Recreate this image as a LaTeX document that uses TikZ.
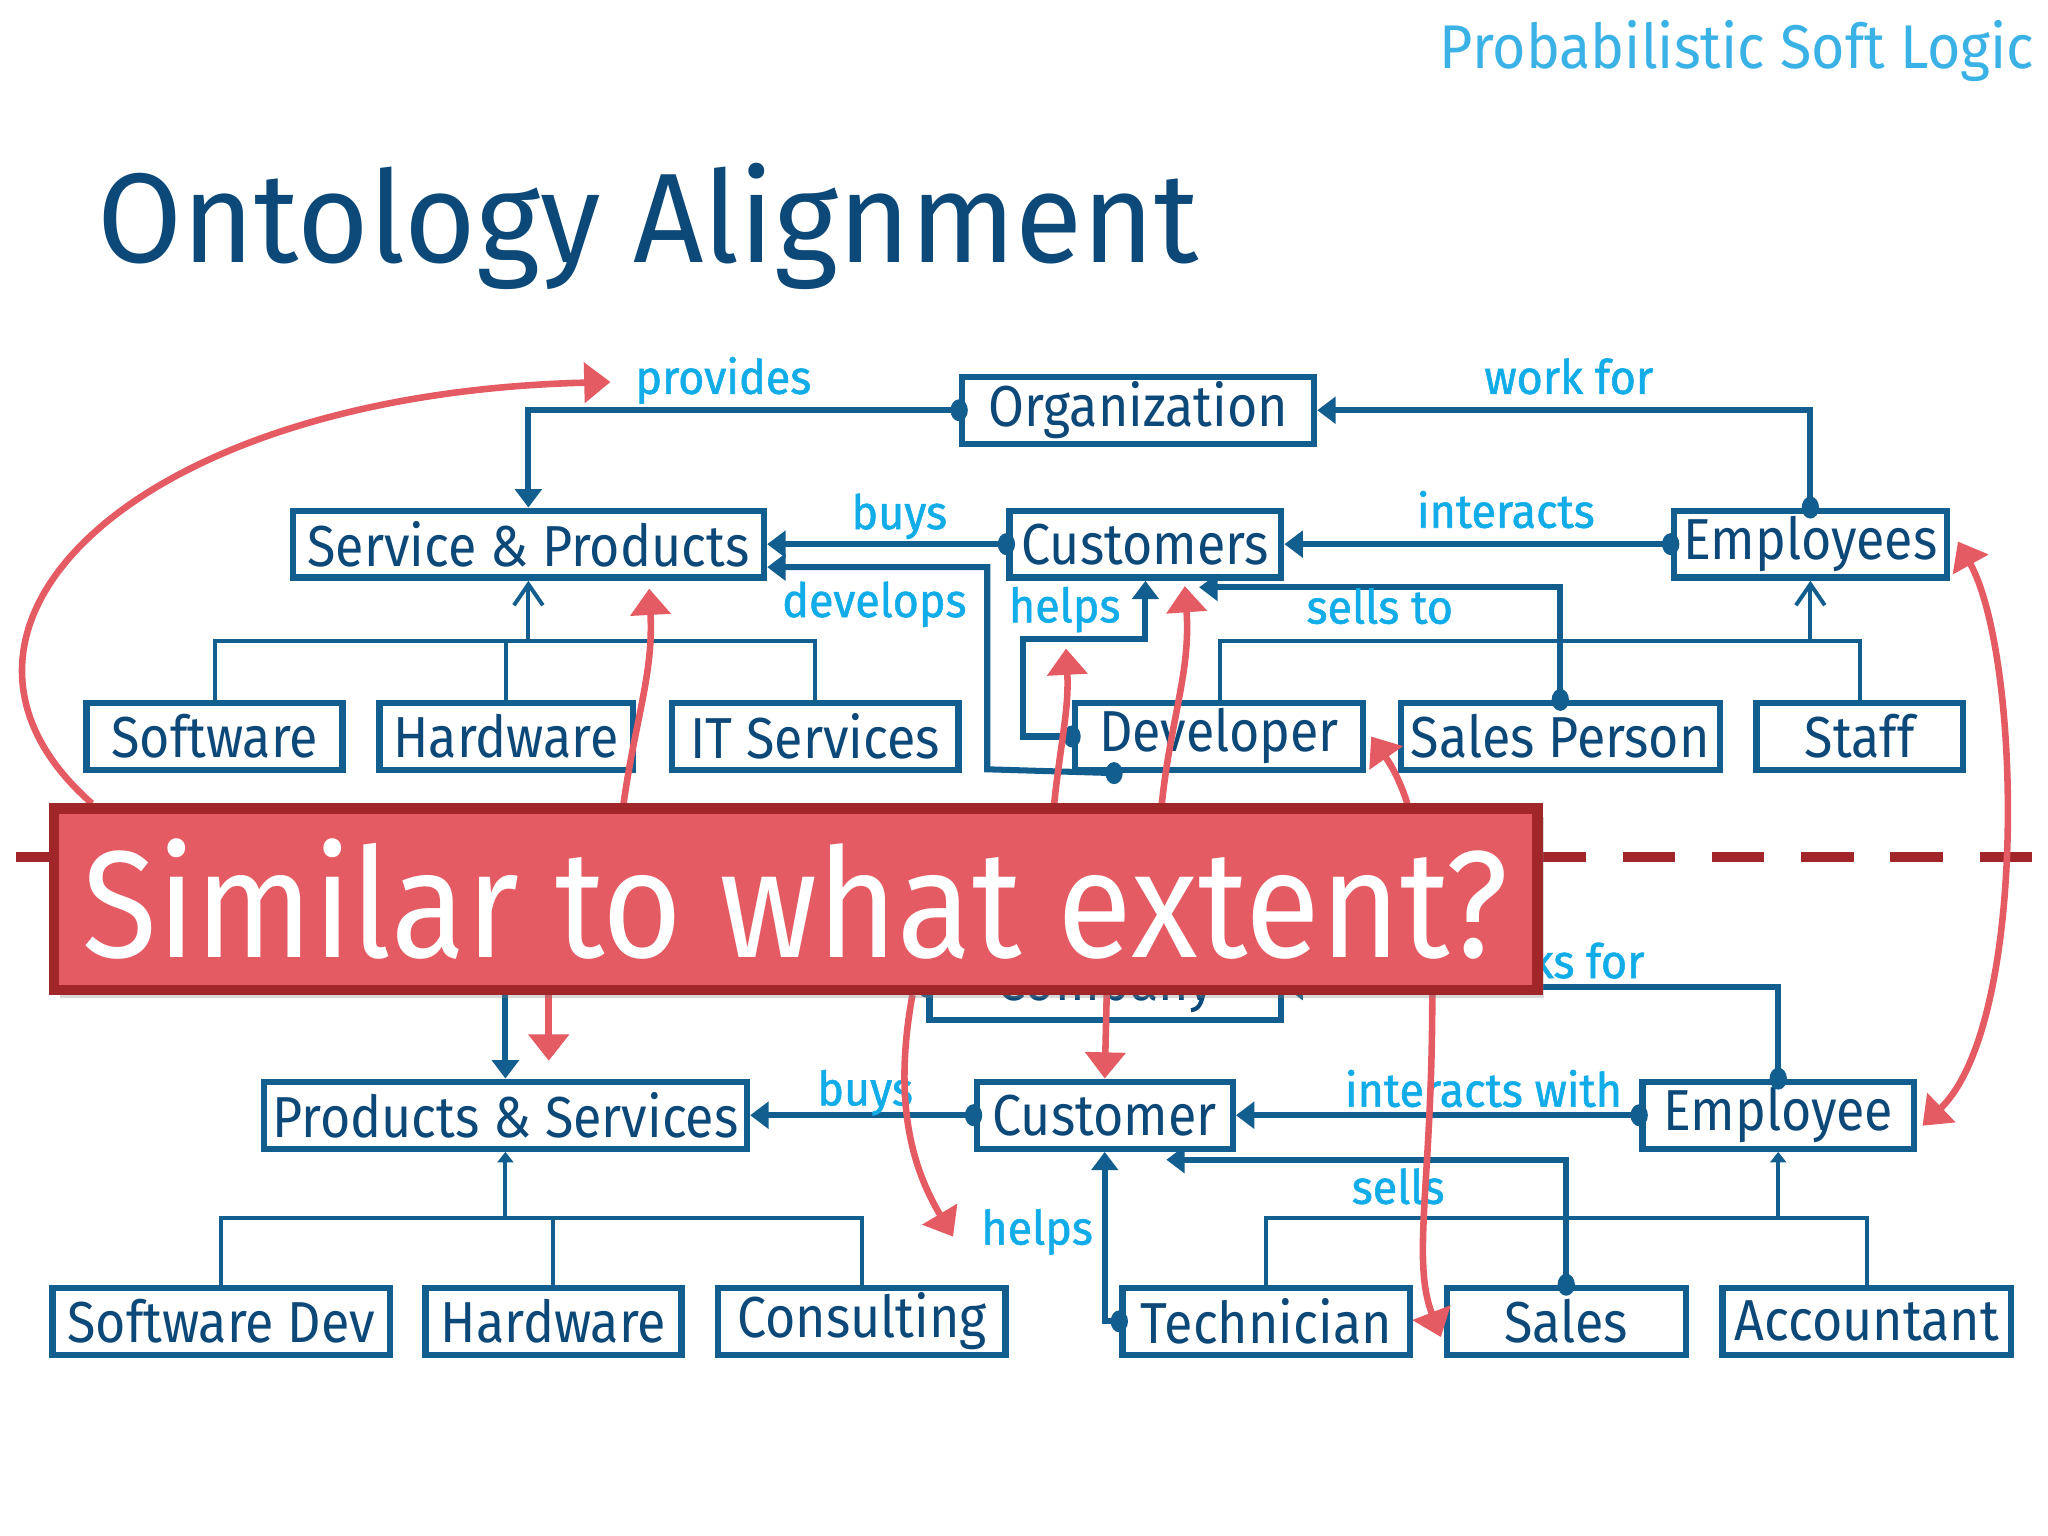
\documentclass[tikz,border=0pt]{standalone}
\usepackage{fontspec}
\newfontfamily\pslf{Fira Sans}[FakeStretch=0.9]
\newfontfamily\ttlf{Fira Sans}[FakeStretch=0.965]
\newfontfamily\hdrf{Fira Sans}[FakeStretch=0.93]
\newfontfamily\lblf{Fira Sans}[FakeStretch=0.95,FakeBold=1.2]
\usetikzlibrary{arrows.meta,shadows}
\definecolor{boxblue}{RGB}{17,94,143}
\definecolor{navy}{RGB}{12,72,120}
\definecolor{lblue}{RGB}{18,172,232}
\definecolor{pslred}{RGB}{229,91,99}
\definecolor{darkred}{RGB}{160,38,42}
\definecolor{titleblue}{RGB}{59,178,230}
\begin{document}
\begin{tikzpicture}[x=0.5pt,y=-0.5pt,
  obox/.style={draw=boxblue, line width=2.4pt, fill=white, inner sep=0pt,
    minimum height=25.5pt, text=navy, font=\pslf\fontsize{22}{24}\selectfont},
  rel/.style={draw=boxblue, line width=2.3pt, -{Triangle[length=7pt,width=10pt]}},
  dotm/.style={fill=boxblue},
  hier/.style={draw=boxblue, line width=1.5pt},
  hierarr/.style={draw=boxblue, line width=1.5pt, -{Straight Barb[length=8pt,width=11pt]}},
  hierarrsm/.style={draw=boxblue, line width=1.5pt, -{Triangle[length=4pt,width=6pt]}},
  lbl/.style={text=lblue, font=\lblf\fontsize{18}{20}\selectfont, inner sep=0pt},
  redarr/.style={draw=pslred, line width=2.5pt, -{Triangle[length=10pt,width=15pt]}},
  redarr2/.style={draw=pslred, line width=2.5pt, {Triangle[length=10pt,width=15pt]}-{Triangle[length=10pt,width=15pt]}}
]
\useasboundingbox[fill=white] (0,0) rectangle (1560,1170);

% titles
\node[anchor=base east, inner sep=0pt, text=titleblue, font=\hdrf\fontsize{23.5}{26}\selectfont] (psl) at (1550,52) {Probabilistic Soft Logic};
\node[anchor=base west, inner sep=0pt, text=navy, font=\ttlf\fontsize{48.5}{52}\selectfont] (title) at (74,200) {Ontology Alignment};

% ---------- upper ontology ----------
\node[obox, minimum width=134pt] (org) at (867,312.5) {Organization};
\node[obox, minimum width=179.5pt] (sp) at (402.5,414.5) {Service \& Products};
\node[obox, minimum width=103.5pt] (cus) at (872.5,414.5) {Customers};
\node[obox, minimum width=104pt] (emps) at (1379,414.5) {Employees};
\node[obox, minimum width=97.5pt] (sw) at (163.5,561) {Software};
\node[obox, minimum width=96.5pt] (hw) at (385.5,561) {Hardware};
\node[obox, minimum width=109pt] (it) at (621,561) {IT Services};
\node[obox, minimum width=109.5pt] (dev) at (928.5,561) {Developer};
\node[obox, minimum width=121.5pt] (slp) at (1188.5,561) {Sales Person};
\node[obox, minimum width=78.5pt] (stf) at (1416.5,561) {Staff};

\coordinate (hy1) at (0,488);
\draw[hier] (sw.north) |- (it.north |- hy1) -- (it.north);
\draw[hier] (hw.north) -- (hw.north |- hy1);
\draw[hierarr] (sp.south |- hy1) -- (sp.south);
\draw[hier] ([xshift=0.5pt]dev.north) |- (stf.north |- hy1) -- (stf.north);
\draw[hierarr] (emps.south |- hy1) -- (emps.south);

\draw[rel] (org.west) -| (sp.north);
\draw[rel] (emps.north) |- (org.east);
\draw[rel] (cus.west) -- (sp.east);
\draw[rel] (emps.west) -- (cus.east);
\draw[rel] ([xshift=16pt]dev.south west) -- (752,586) |- ([yshift=-8.75pt]sp.east);
\draw[rel] (slp.north) |- ([xshift=-32.5pt,yshift=-2.5pt]cus.south east);
\draw[rel] (dev.west) -- (779,561) -- (779,487) -| (cus.south);
\fill[dotm] (org.west) ellipse[x radius=3.3pt, y radius=4.2pt];
\fill[dotm] (emps.north) ellipse[x radius=3.3pt, y radius=4.2pt];
\fill[dotm] (cus.west) ellipse[x radius=3.3pt, y radius=4.2pt];
\fill[dotm] (emps.west) ellipse[x radius=3.3pt, y radius=4.2pt];
\fill[dotm] ([xshift=16pt]dev.south west) ellipse[x radius=3.3pt, y radius=4.2pt];
\fill[dotm] (slp.north) ellipse[x radius=3.3pt, y radius=4.2pt];
\fill[dotm] (dev.west) ellipse[x radius=3.3pt, y radius=4.2pt];

\node[lbl, anchor=base] (lprov) at (551,300) {provides};
\node[lbl, anchor=base] (lwork) at (1195,300) {work for};
\node[lbl, anchor=base] (lbuys) at (685,403) {buys};
\node[lbl, anchor=base] (ldev) at (666,470) {develops};
\node[lbl, anchor=base] (lint) at (1147,402) {interacts};
\node[lbl, anchor=base] (lhelp) at (811,474) {helps};
\node[lbl, anchor=base] (lsell) at (1051,475) {sells to};

% ---------- lower ontology ----------
\node[obox, minimum width=134pt] (com) at (842,751.5) {Company};
\node[obox, minimum width=184pt] (ps) at (385,849.5) {Products \& Services};
\node[obox, minimum width=97.5pt] (cust) at (841.5,849.5) {Customer};
\node[obox, minimum width=103.5pt] (empl) at (1354.5,849.5) {Employee};
\node[obox, minimum width=128.5pt] (sd) at (168.5,1006.5) {Software Dev};
\node[obox, minimum width=97.5pt] (hw2) at (421.5,1006.5) {Hardware};
\node[obox, minimum width=109.5pt] (con) at (656.5,1006.5) {Consulting};
\node[obox, minimum width=109.5pt] (tech) at (964.5,1006.5) {Technician};
\node[obox, minimum width=91pt] (sales) at (1193,1006.5) {Sales};
\node[obox, minimum width=110pt] (acc) at (1422,1006.5) {Accountant};

\coordinate (hy2) at (0,928);
\draw[hier] (sd.north) |- (con.north |- hy2) -- (con.north);
\draw[hier] (hw2.north) -- (hw2.north |- hy2);
\draw[hierarrsm] (ps.south |- hy2) -- (ps.south);
\draw[hier] (tech.north) |- (acc.north |- hy2) -- (acc.north);
\draw[hierarrsm] (empl.south |- hy2) -- (empl.south);

\draw[rel] (com.west) -| (ps.north);
\draw[rel] (empl.north) |- (com.east);
\draw[rel] (cust.west) -- (ps.east);
\draw[rel] (empl.west) -- (cust.east);
\draw[rel] (sales.north) |- ([xshift=-26.5pt,yshift=-3pt]cust.south east);
\draw[rel] (tech.west) -| (cust.south);
\fill[dotm] (com.west) ellipse[x radius=3.3pt, y radius=4.2pt];
\fill[dotm] (empl.north) ellipse[x radius=3.3pt, y radius=4.2pt];
\fill[dotm] (cust.west) ellipse[x radius=3.3pt, y radius=4.2pt];
\fill[dotm] (empl.west) ellipse[x radius=3.3pt, y radius=4.2pt];
\fill[dotm] (sales.north) ellipse[x radius=3.3pt, y radius=4.2pt];
\fill[dotm] (tech.west) ellipse[x radius=3.3pt, y radius=4.2pt];

\node[lbl, anchor=base east] (lworks) at (1253,745) {works for};
\node[lbl, anchor=base] (lbuys2) at (659,842) {buys};
\node[lbl, anchor=base] (lint2) at (1130,843) {interacts with};
\node[lbl, anchor=base] (lsell2) at (1065,917) {sells};
\node[lbl, anchor=base] (lhelp2) at (790,948) {helps};

% ---------- dashed separator ----------
\coordinate (dl) at (0,653);
\coordinate (dr) at (1548,653);
\draw[darkred, line width=3.8pt, dash pattern=on 20pt off 14pt, dash phase=28pt] (dl) -- (dr);

% ---------- red alignment arrows ----------
\coordinate (r1s) at (70,612);
\coordinate (r1e) at (465,291);
\draw[redarr] (r1s) .. controls (-80,480) and (100,300) .. (r1e);
\draw[redarr] (475,612) to[out=82,in=-87] ([xshift=46pt,yshift=-3pt]sp.south);
\coordinate (r3e) at (812,494);
\draw[redarr] (803,612) to[out=84,in=-87] (r3e);
\draw[redarr] (885,612) to[out=84,in=-86] ([xshift=15pt,yshift=-2pt]cus.south);
\draw[redarr] (1072,612) to[out=108,in=-55] ([xshift=2pt]dev.east);
\draw[redarr2] ([xshift=3pt,yshift=1pt]emps.east) .. controls (1540,500) and (1545,780) .. ([xshift=2pt,yshift=-4pt]empl.east);
\draw[redarr] (418,758) -- (418,808);
\draw[redarr] (843,758) -- (cust.north);
\coordinate (r9e) at (726,942);
\draw[redarr] (695,758) .. controls (680,840) and (695,890) .. (r9e);
\draw[redarr] (1091,758) .. controls (1091,900) and (1075,960) .. ([xshift=-1pt,yshift=-6pt]sales.west);

% ---------- question box ----------
\node[draw=darkred, fill=pslred, line width=4pt, minimum width=565pt, minimum height=69pt,
  inner sep=0pt, text=white, font=\pslf\fontsize{58}{60}\selectfont,
  drop shadow={shadow xshift=2.5pt, shadow yshift=-3pt, opacity=0.3}] (q) at (606,685) {Similar to what extent?};
\end{tikzpicture}
\end{document}
